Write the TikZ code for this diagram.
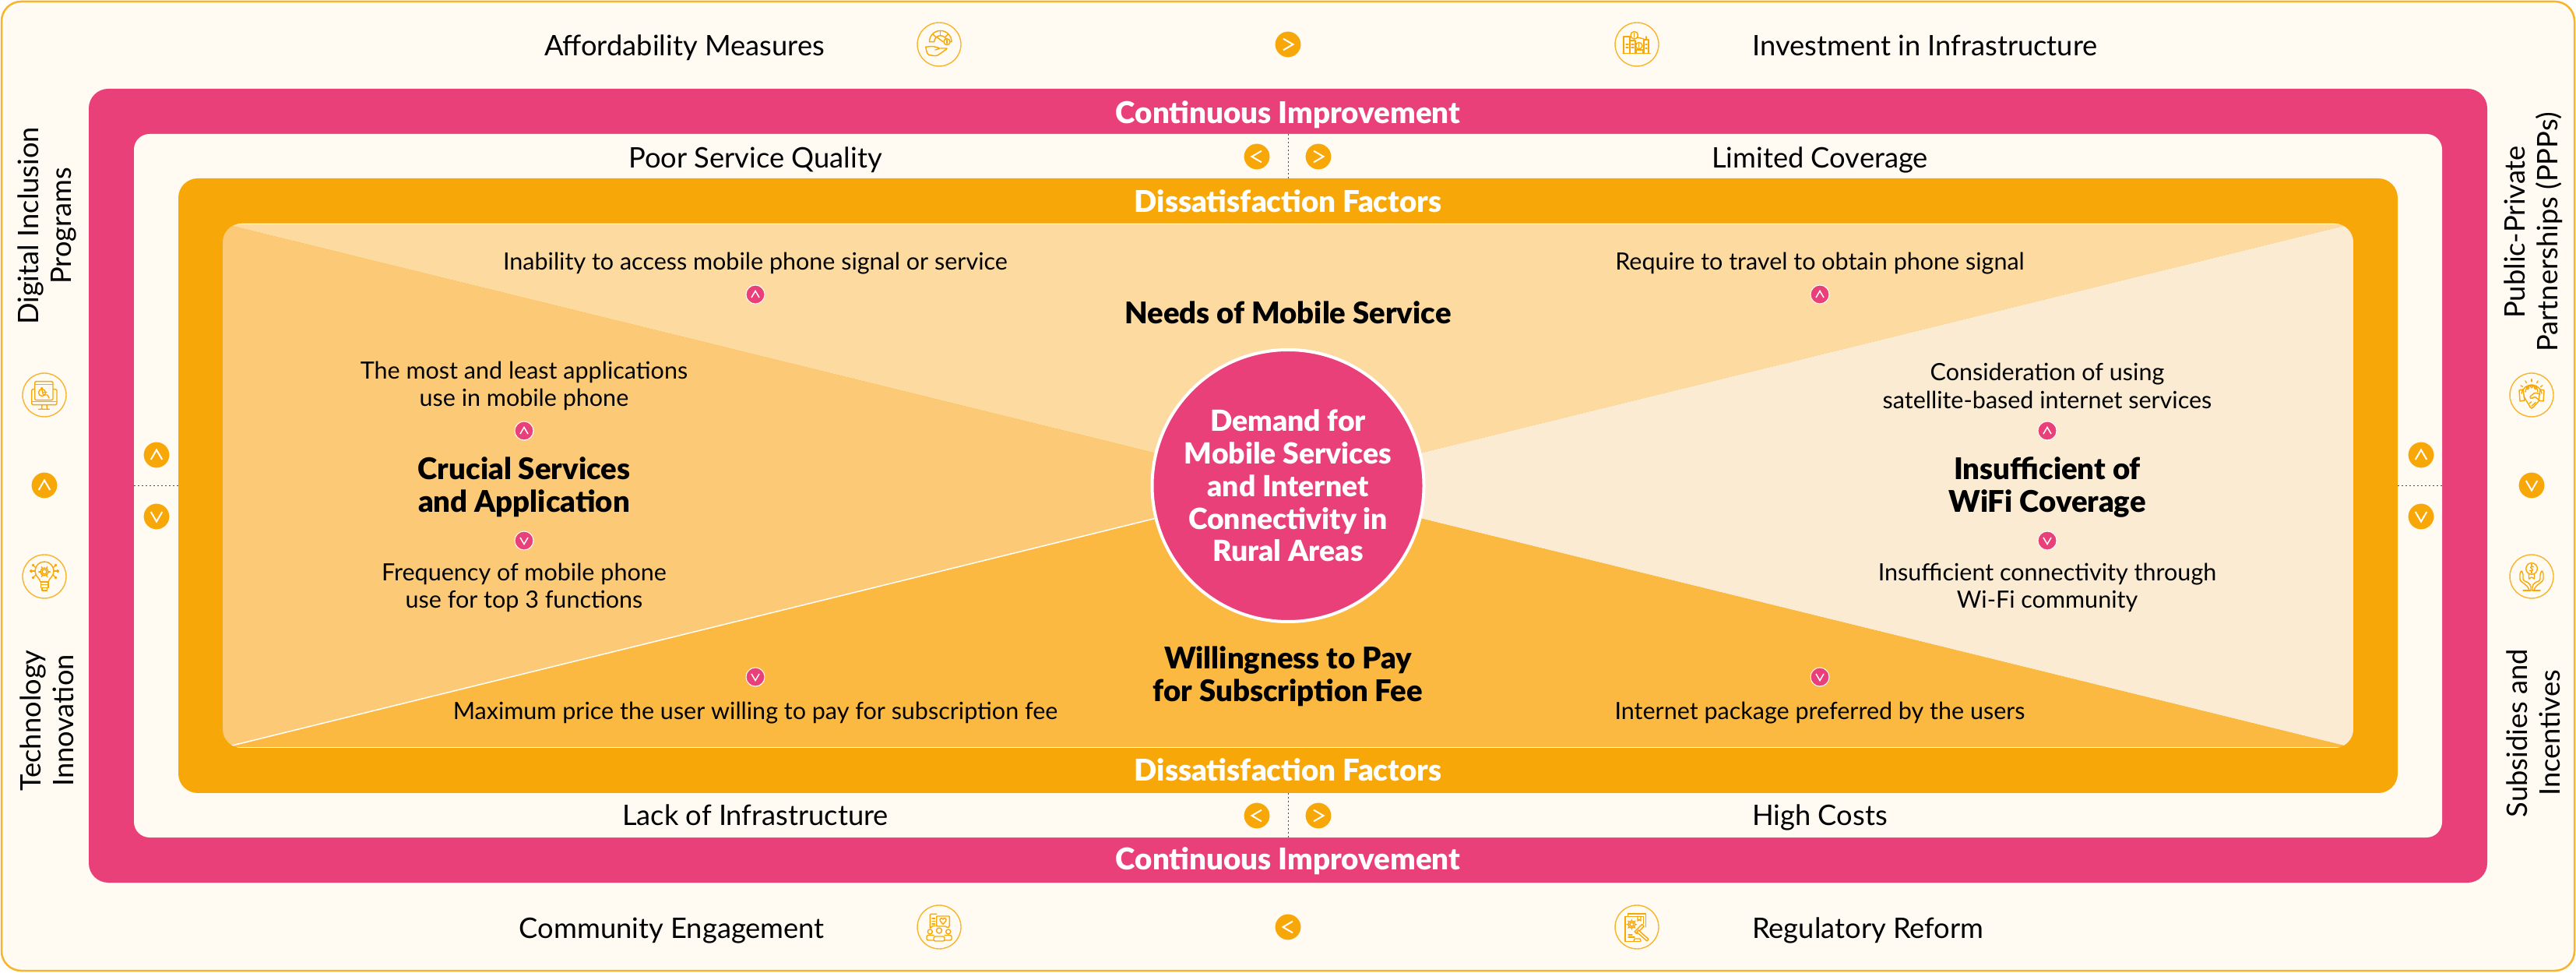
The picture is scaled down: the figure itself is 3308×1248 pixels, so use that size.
\documentclass[tikz,border=0pt]{standalone}
\usepackage{fontspec}
\setmainfont{Lato}
\newfontfamily\headfont{Lato Black}
\definecolor{pinkband}{HTML}{E9407A}
\definecolor{orangeband}{HTML}{F7A707}
\definecolor{creambg}{HTML}{FFFBF3}
\definecolor{sliceTop}{HTML}{FCDAA0}
\definecolor{sliceLeft}{HTML}{FCCA76}
\definecolor{sliceRight}{HTML}{FAEBD2}
\definecolor{sliceBottom}{HTML}{FBB942}
\tikzset{
    x=1pt, y=1pt,
    panel/.style={rounded corners=25pt, inner sep=0pt, outer sep=0pt},
    body/.style={inner sep=0pt, align=center, text=black, font=\fontsize{30.5}{35.5}\selectfont},
    lead/.style={inner sep=0pt, align=center, text=black, font=\fontsize{36.3}{42}\selectfont},
    head/.style={inner sep=0pt, align=center, text=black, font=\headfont\fontsize{38.3}{42.5}\selectfont},
    band/.style={inner sep=0pt, text=white, anchor=base, font=\headfont\fontsize{38.5}{40}\selectfont},
    chevbtn/.style={circle, fill=orangeband, draw=creambg, line width=1pt, minimum size=34pt, inner sep=0pt},
    chevsmall/.style={circle, fill=pinkband, draw=white, line width=1pt, minimum size=24pt, inner sep=0pt},
    iconring/.style={circle, fill=creambg, draw=orangeband!85, line width=1.4pt, minimum size=56pt, inner sep=0pt},
    sepline/.style={dash pattern=on 2pt off 3pt, line width=1pt, draw=black!70},
    icn/.style={draw=orangeband, line width=1.4pt, line join=round, line cap=round},
    chev/.pic={\draw[white, line width=2pt] (-7.3,-6) -- (0,6.5) -- (7.3,-6);},
    chevtiny/.pic={\draw[white, line width=1.5pt] (-5,-4) -- (0,4.5) -- (5,-4);},
    % icons, each one drawn round the centre of its ring
    gaugepic/.pic={
        \draw[icn] (-12.6,3.3) arc (180:0:14.3) -- (9.7,3.3) arc (0:180:8) -- cycle;
        \foreach \a in {45,90,135} {\draw[icn] (1.7,3.3) ++(\a:8) -- ++(\a:6.3);}
        \draw[icn] (-2.7,9.3) -- (5,3.3);
        \draw[icn, fill=creambg] (10,3.3) circle (4);
        \draw[icn] (10,1) -- (10,5.6);
        \draw[icn, rounded corners=2pt] (-17.3,-3.3) -- (-8.3,-2.3) -- (1.7,-5) -- (-5,-7);
        \draw[icn, rounded corners=2pt] (-17.3,-3.3) -- (-15,-13.3) -- (-3.3,-15) -- (11,-5) -- (1.7,-5);
    },
    buildingpic/.pic={
        \draw[icn] (-18,-11.7) -- (17,-11.7);
        \draw[icn] (-17,-11.7) -- (-17,10) -- (-9,10) -- (-9,-11.7);
        \draw[icn] (-9,5) -- (-2,5) -- (-2,-11.7);
        \foreach \y in {0,-4} {\draw[icn] (-14,\y) -- (-11,\y); \draw[icn] (-7,\y) -- (-4,\y);}
        \draw[icn] (9,-11.7) -- (9,6) -- (15,6) -- (15,-11.7);
        \draw[icn] (12,6) -- (12,10);
        \draw[icn] (11,0) -- (13,0); \draw[icn] (11,-5) -- (13,-5);
        \draw[icn, fill=creambg] (-3.3,11.7) circle (4.8);
        \draw[icn] (-3.3,9) -- (-3.3,14.4);
        \draw[icn, fill=creambg] (2.7,-1.7) circle (4.2);
        \draw[icn] (2.7,-4) -- (2.7,0.6);
        \draw[icn] (1,9) -- (9,7);
        \draw[icn] (-1,-7) -- (-1,-11.7) -- (8,-11.7) -- (8,-7) -- cycle;
    },
    wheelchairpic/.pic={
        \draw[icn, rounded corners=1.5pt] (-16.3,7.3) rectangle (16,-12.7);
        \draw[icn, fill=creambg, rounded corners=1.5pt] (-12.3,17.3) rectangle (11,-6.7);
        \draw[icn] (-12.3,13.5) -- (11,13.5);
        \draw[icn] (-16.3,-8.5) -- (16,-8.5);
        \draw[icn] (-3,-12.7) -- (-3.5,-18) (3,-12.7) -- (3.5,-18) (-7.3,-18.3) -- (6.5,-18.3);
        \draw[icn] (-3,3) circle (4.5);
        \draw[icn] (-3.3,8.5) circle (1);
        \draw[icn] (-3,6.5) -- (-1.5,0) -- (4,0) -- (6,-4);
        \draw[icn] (-2,3.5) -- (3,3.5);
    },
    bulbpic/.pic={
        \draw[icn] (-5,-7) .. controls (-6,-2) and (-12,0) .. (-12,7) arc (180:0:12) .. controls (12,0) and (6,-2) .. (5,-7) -- cycle;
        \draw[icn] (-4.5,-10.5) rectangle (5,-7) (-4.5,-14.5) rectangle (5,-10.5) (-3,-18) rectangle (3.5,-14.5);
        \draw[icn] (0,6) circle (3);
        \foreach \a in {0,60,...,300} {\draw[icn] (0,6) ++(\a:5) -- ++(\a:2.3);}
        \draw[icn] (0,6) circle (5);
        \foreach \s in {1,-1} {
            \draw[icn] (\s*12,7) -- (\s*16,7);
            \draw[icn] (\s*11,11) -- (\s*14,14);
            \draw[icn] (\s*11,2) -- (\s*14,-1);
            \draw[icn, fill=creambg] (\s*17,7) circle (1.4);
            \draw[icn, fill=creambg] (\s*14.5,14.5) circle (1.2);
            \draw[icn, fill=creambg] (\s*14.5,-1.5) circle (1.2);
        }
    },
    handshakepic/.pic={
        \draw[icn] (-13,2) arc (170:10:13.2);
        \foreach \a in {30,60,...,150} {\draw[icn] (0,4) ++(\a:13.2) -- ++(\a:3);}
        \foreach \x/\y in {-5/9,0/11,5/9} {\draw[icn] (\x,\y) circle (1.8);}
        \draw[icn] (-8,4) arc (180:0:8);
        \draw[icn] (-16,6) -- (-11,7) -- (-9,-7) -- (-15,-8) -- cycle;
        \draw[icn] (16,6) -- (11,7) -- (9,-7) -- (15,-8) -- cycle;
        \draw[icn, rounded corners=1.5pt] (-10,-2) -- (-1,-17) -- (1,-17) -- (10,-7);
        \draw[icn, rounded corners=1.5pt] (11,1) -- (4,3) -- (-3,-3) -- (0,-5) -- (4,-2) -- (9,-6);
        \draw[icn] (-3,-11) -- (-0.5,-9) (0,-14) -- (2.5,-12) (3,-11.5) -- (5,-9.5);
    },
    dollarhandspic/.pic={
        \draw[icn] (0,10) circle (7.3);
        \draw[icn] (2.3,12.3) .. controls (0,14) and (-3,12) .. (0,10) .. controls (3,8) and (0,6) .. (-2.3,7.7);
        \draw[icn] (0,15.5) -- (0,14) (0,6) -- (0,4.5);
        \draw[icn] (-3.5,3.5) -- (-3.5,-3) -- (0,-1) -- (3.5,-3) -- (3.5,3.5);
        \foreach \s in {1,-1} {
            \draw[icn, rounded corners=1.5pt] (\s*13,7) -- (\s*15,5) -- (\s*15,-5) -- (\s*5,-13) -- (\s*3,-18);
            \draw[icn, rounded corners=1.5pt] (\s*13,7) -- (\s*11,4) -- (\s*11,-5) -- (\s*4,-8) -- (\s*1,-12) -- (\s*1,-18);
            \draw[icn] (\s*1,-18) -- (\s*11,-18);
        }
    },
    crowdpic/.pic={
        \draw[icn, rounded corners=1pt] (-3.3,16.7) -- (-11.7,16.7) -- (-11.7,-2) -- (-8.5,1.5) -- (-5,1.5);
        \foreach \y in {11,7.5,4} {\draw[icn] (-9,\y) -- (-5.5,\y);}
        \draw[icn, fill=creambg, rounded corners=1pt] (-3.3,14) -- (13.3,14) -- (13.3,1) -- (11,-1) -- (8.5,1) -- (-3.3,1) -- cycle;
        \draw[icn] (5,3.5) -- (1.3,8) .. controls (0,11) and (3.5,12.5) .. (5,10) .. controls (6.5,12.5) and (10,11) .. (8.7,8) -- cycle;
        \draw[icn] (0,-4.5) circle (3.5);
        \draw[icn] (-11.7,-6) circle (3) (11.7,-6) circle (3);
        \draw[icn, rounded corners=2pt] (-7,-18) -- (-7,-12) -- (7,-12) -- (7,-18) -- cycle;
        \draw[icn, rounded corners=2pt] (-7,-17) -- (-16,-17) -- (-16,-10.5) -- (-7,-10.5);
        \draw[icn, rounded corners=2pt] (7,-17) -- (16,-17) -- (16,-10.5) -- (7,-10.5);
    },
    lawbookpic/.pic={
        \draw[icn] (-11.5,13.3) -- (-11.5,17) -- (11.5,17) -- (11.5,0);
        \draw[icn] (4,-18.3) -- (-15,-18.3) -- (-15,13.3) -- (8.3,13.3) -- (8.3,4);
        \draw[icn] (1,13.3) -- (1,8) -- (3,9.5) -- (5,8) -- (5,13.3);
        \draw[icn] (-6.7,3.3) circle (2.5);
        \draw[icn] (-6.7,3.3) circle (4.6);
        \foreach \a in {0,45,...,315} {\draw[icn] (-6.7,3.3) ++(\a:4.6) -- ++(\a:1.8);}
        \draw[icn] (-11,-10) -- (-6,-10) (-11,-13) -- (-3,-13);
        \draw[icn, fill=creambg] (-3,-6) -- (6.5,3.5) -- (9,1) -- (-0.5,-8.5) -- cycle;
        \draw[icn, fill=creambg] (2,-4) -- (15,-15.5) -- (13,-18) -- (0,-6.5) -- cycle;
        \draw[icn] (-4,-18.3) -- (-3,-15) -- (4,-15) -- (5,-18.3);
    },
}
\begin{document}
\begin{tikzpicture}
    \useasboundingbox (0,0) rectangle (3308,1248);

    % Nested panels, all round the same centre
    \node[panel, fill=creambg, draw=orangeband!85, line width=2.5pt, minimum width=3304pt, minimum height=1244pt] (page) at (1654,624) {};
    \node[panel, fill=pinkband, minimum width=3080pt, minimum height=1019pt] (pinkpanel) at (1654,624.5) {};
    \node[panel, fill=creambg, rounded corners=20pt, minimum width=2964pt, minimum height=903pt] (creampanel) at (1654,624.5) {};
    \node[panel, fill=orangeband, minimum width=2850pt, minimum height=789pt] (orangepanel) at (1654,624.5) {};
    \node[panel, rounded corners=24pt, minimum width=2736pt, minimum height=673pt] (slices) at (1654,624.5) {};

    % The four slices, clipped to the inner panel
    \begin{scope}
        \clip[rounded corners=24pt] (slices.south west) rectangle (slices.north east);
        \fill[sliceTop] (slices.north west) -- (slices.center) -- (slices.north east) -- cycle;
        \fill[sliceLeft] (slices.north west) -- (slices.center) -- (slices.south west) -- cycle;
        \fill[sliceRight] (slices.north east) -- (slices.center) -- (slices.south east) -- cycle;
        \fill[sliceBottom] (slices.south west) -- (slices.center) -- (slices.south east) -- cycle;
        \draw[white, line width=1.5pt] (slices.south west) -- (slices.center);
        \draw[white, line width=2pt] (slices.south west) -- (slices.south east);
        \draw[white, line width=2pt] (slices.north west) -- (slices.north east);
    \end{scope}

    % Dotted separators in the cream ring
    \draw[sepline] (creampanel.north) -- (orangepanel.north);
    \draw[sepline] (creampanel.south) -- (orangepanel.south);
    \draw[sepline] (creampanel.west) -- (orangepanel.west);
    \draw[sepline] (creampanel.east) -- (orangepanel.east);

    % Centre circle
    \node[circle, fill=pinkband, draw=white, line width=4pt, minimum size=349pt, inner sep=0pt,
        align=center, text=white, font=\headfont\fontsize{37.3}{41.7}\selectfont] (demand) at (slices.center)
        {Demand for\\Mobile Services\\and Internet\\Connectivity in\\Rural Areas};

    % Band titles
    \node[band] (ciTop) at (1654,1089) {Continuous Improvement};
    \node[band] (ciBottom) at (1654,132) {Continuous Improvement};
    \node[band] (dfTop) at (1654,975) {Dissatisfaction Factors};
    \node[band] (dfBottom) at (1654,245) {Dissatisfaction Factors};

    % Outer labels
    \node[lead, anchor=base east] (afford) at (1059,1176) {Affordability Measures};
    \node[lead, anchor=base west] (invest) at (2250,1176) {Investment in Infrastructure};
    \node[lead, anchor=base east] (community) at (1059,44) {Community Engagement};
    \node[lead, anchor=base west] (regulatory) at (2250,44) {Regulatory Reform};
    \node[lead, rotate=90] (digital) at (60,958) {Digital Inclusion\\Programs};
    \node[lead, rotate=90] (techno) at (60,323) {Technology\\Innovation};
    \node[lead, rotate=90] (ppp) at (3253,950) {Public-Private\\Partnerships (PPPs)};
    \node[lead, rotate=90] (subsidy) at (3253,307) {Subsidies and\\Incentives};

    % Cream ring labels
    \node[lead, anchor=base] (poor) at (970,1032) {Poor Service Quality};
    \node[lead, anchor=base] (limited) at (2337,1032) {Limited Coverage};
    \node[lead, anchor=base] (lack) at (970,189) {Lack of Infrastructure};
    \node[lead, anchor=base] (costs) at (2337,189) {High Costs};

    % Slice texts
    \node[body, anchor=base] (inability) at (970,901) {Inability to access mobile phone signal or service};
    \node[body, anchor=base] (travel) at (2337,901) {Require to travel to obtain phone signal};
    \node[head] (needs) at (1654,847) {Needs of Mobile Service};
    \node[body] (mostleast) at (673,752.5) {The most and least applications\\use in mobile phone};
    \node[head] (crucial) at (673,622.5) {Crucial Services\\and Application};
    \node[body] (frequency) at (673,493.5) {Frequency of mobile phone\\use for top 3 functions};
    \node[body] (satellite) at (2629,752.5) {Consideration of using\\satellite-based internet services};
    \node[head] (wifi) at (2629,622.5) {Insufficient of\\WiFi Coverage};
    \node[body] (community2) at (2629,493.5) {Insufficient connectivity through\\Wi-Fi community};
    \node[head] (willing) at (1654,379.5) {Willingness to Pay\\for Subscription Fee};
    \node[body, anchor=base] (maxprice) at (970,324) {Maximum price the user willing to pay for subscription fee};
    \node[body, anchor=base] (package) at (2337,324) {Internet package preferred by the users};

    % Chevron buttons
    \foreach \n/\x/\y/\a in {a/1654/1191/-90, b/1614/1047/90, c/1693/1047/-90, d/1614/201/90, e/1693/201/-90,
        f/1654/58/90, g/57/625/0, h/201/664/0, i/201/585/180, j/3109/664/0, k/3109/585/180, l/3251/625/180} {
        \node[chevbtn] (btn\n) at (\x,\y) {};
        \pic[rotate=\a] at (btn\n) {chev};
    }
    \foreach \n/\x/\y/\a in {a/970/870/0, b/2337/870/0, c/673/695/0, d/673/554/180,
        e/2629/695/0, f/2629/554/180, g/970/379/180, h/2337/379/180} {
        \node[chevsmall] (tiny\n) at (\x,\y) {};
        \pic[rotate=\a] at (tiny\n) {chevtiny};
    }

    % Icons in their rings
    \foreach \n/\x/\y/\p in {rA/1206/1191/gaugepic, rB/2102/1191/buildingpic, rC/1206/58/crowdpic, rD/2102/58/lawbookpic,
        rE/57/741/wheelchairpic, rF/57/508/bulbpic, rG/3251/741/handshakepic, rH/3251/508/dollarhandspic} {
        \node[iconring] (\n) at (\x,\y) {};
        \pic at (\n) {\p};
    }
\end{tikzpicture}
\end{document}
